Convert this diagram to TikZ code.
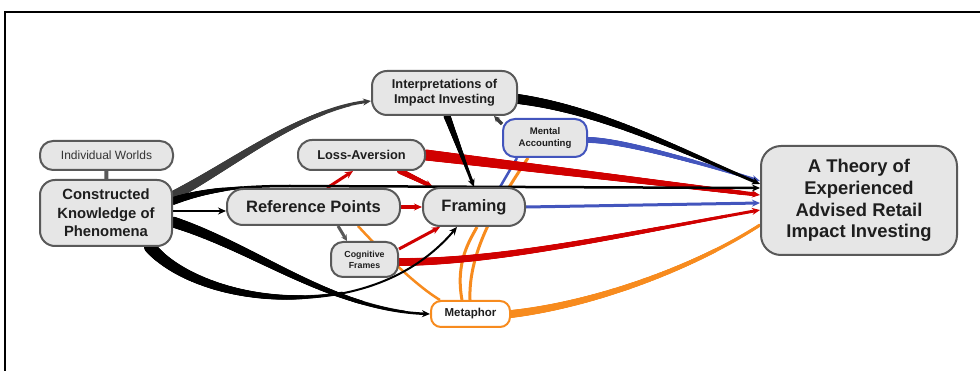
\documentclass[tikz,border=0pt]{standalone}
\usepackage{fontspec}
\setmainfont{Liberation Sans}
\usetikzlibrary{arrows.meta,backgrounds,decorations.markings}

\definecolor{boxfill}{HTML}{E6E6E6}
\definecolor{boxline}{HTML}{595959}
\definecolor{textgray}{HTML}{333333}
\definecolor{inktext}{HTML}{1E1E1E}
\definecolor{linkred}{HTML}{D00000}
\definecolor{linkblue}{HTML}{4355BD}
\definecolor{linkorange}{HTML}{F78B1E}
\definecolor{linkgray}{HTML}{3C3C3C}

\tikzset{
  box/.style={draw=boxline, fill=boxfill, line width=2pt, align=center,
    inner sep=0pt, text=inktext},
  tip/.style={-{Stealth[length=8pt,width=7pt]}},
  smalltip/.style={-{Stealth[length=6pt,width=6pt]}},
  % stroke that narrows from width #2 to #3 over the fraction #4 of the path
  taper/.style n args={4}{postaction={decorate,decoration={markings,
    mark=between positions 0 and #4 step 0.8pt with {
      \pgfmathsetmacro\tpr{(#2-(#2-#3)*(\pgfkeysvalueof{/pgf/decoration/mark info/distance from start})/(#4*\pgfdecoratedpathlength))/2}
      \fill[#1] (0,0) circle[radius=\tpr pt];
    }}}},
}

\begin{document}
\begin{tikzpicture}[x=1pt, y=-1pt, line cap=round]
\useasboundingbox (0,0) rectangle (980,371);

% ---- nodes ----
\node[box, minimum width=133pt, minimum height=29pt, rounded corners=13pt,
  text=textgray, font=\fontsize{12}{14}\selectfont] (iw) at (106.5,155.5) {Individual Worlds};
\node[box, minimum width=132pt, minimum height=66pt, rounded corners=15pt,
  font=\bfseries\fontsize{14.8}{18.5}\selectfont] (ck) at (106,213) {Constructed\\Knowledge of\\Phenomena};
\node[box, minimum width=173pt, minimum height=36pt, rounded corners=16pt,
  font=\bfseries\fontsize{16.5}{19}\selectfont] (ref) at (313.5,207) {Reference Points};
\node[box, minimum width=102pt, minimum height=38pt, rounded corners=17pt,
  font=\bfseries\fontsize{16.5}{19}\selectfont] (framing) at (474,207) {Framing};
\node[box, minimum width=127pt, minimum height=30pt, rounded corners=14pt,
  font=\bfseries\fontsize{12.8}{15}\selectfont] (la) at (361.5,155) {Loss-Aversion};
\node[box, minimum width=145pt, minimum height=44pt, rounded corners=15pt,
  font=\bfseries\fontsize{12.8}{15}\selectfont] (interp) at (444.5,93) {Interpretations of\\Impact Investing};
\node[box, draw=linkblue, minimum width=84pt, minimum height=38pt, rounded corners=12pt,
  font=\bfseries\fontsize{9.6}{11.7}\selectfont] (ma) at (545,138) {Mental\\Accounting};
\node[box, minimum width=67pt, minimum height=35pt, rounded corners=12pt,
  font=\bfseries\fontsize{8.8}{11}\selectfont] (cf) at (364.5,259.5) {Cognitive\\Frames};
\node[box, draw=linkorange, fill=white, minimum width=79pt, minimum height=26pt, rounded corners=10pt,
  font=\bfseries\fontsize{11.5}{13}\selectfont] (metaphor) at (470.5,314) {Metaphor};
\node[box, minimum width=196pt, minimum height=109pt, rounded corners=20pt,
  font=\bfseries\fontsize{18.4}{21.7}\selectfont] (theory) at (859,200.5) {A Theory of\\Experienced\\Advised Retail\\Impact Investing};

\begin{scope}[on background layer]
  % frame
  \draw[black, line width=2.5pt, line cap=butt] (5,371) -- (5,12) -- (980,12);

  % link between the two left boxes
  \draw[boxline, line width=4pt, line cap=butt] (iw) -- (ck);

  % orange links
  \draw[linkorange, line width=3pt, taper={linkorange}{8}{3}{1}]
    (metaphor.east) .. controls (590,305) and (690,270) .. (theory.west |- 0,225);
  \draw[linkorange, line width=3pt]
    (metaphor.north -| 462,0) .. controls (455,262) and (470,240) .. (framing.south -| 477,0);
  \draw[linkorange, line width=3pt]
    (metaphor.north -| 470,0) .. controls (468,250) and (500,200) .. (ma.south -| 528,0);
  \draw[linkorange, line width=2.5pt]
    (ref.south -| 358,0) .. controls (380,250) and (415,285) .. (metaphor.north -| 440,0);

  % blue links
  \draw[linkblue, line width=3pt, tip, taper={linkblue}{6}{3}{0.9}]
    (ma.east |- 0,140) .. controls (620,140) and (690,160) .. (theory.west |- 0,181);
  \draw[linkblue, line width=3pt, tip] (framing.east) -- (theory.west |- 0,203);
  \draw[linkblue, line width=2.5pt] (framing.north -| 500,0) -- (ma.south -| 517,0);

  % red links
  \draw[linkred, line width=3pt, tip] (ref.north -| 327,0) -- (la.south -| 353,0);
  \draw[linkred, line width=4pt, tip, taper={linkred}{6}{4}{0.8}]
    (la.south -| 400,0) -- (framing.north -| 433,0);
  \draw[linkred, line width=4pt, tip] (ref.east) -- (framing.west);
  \draw[linkred, line width=3pt, tip] (cf.east |- 0,249) -- (framing.south -| 440,0);
  \draw[linkred, line width=4pt, tip, taper={linkred}{11}{4}{0.95}]
    (la.east |- 0,155) -- (theory.west |- 0,195);
  \draw[linkred, line width=3pt, tip, taper={linkred}{8}{3}{0.9}]
    (cf.east |- 0,262) .. controls (500,262) and (620,235) .. (theory.west |- 0,210);

  % black and grey links
  \draw[linkgray, line width=3pt, tip, taper={linkgray}{10}{3}{0.9}]
    (ck.east |- 0,196) .. controls (240,160) and (300,110) .. (interp.west |- 0,101);
  \draw[black, line width=2.5pt, tip, taper={black}{8}{2.5}{0.12}]
    (ck.east |- 0,201) .. controls (205,190) and (240,186) .. (290,186) -- (theory.west |- 0,188);
  \draw[black, line width=2pt, tip] (ck.east |- 0,211) -- (ref.west |- 0,211);
  \draw[black, line width=2.5pt, tip, taper={black}{11}{2.5}{0.9}]
    (ck.east |- 0,222) .. controls (260,250) and (330,310) .. (metaphor.west);
  \draw[black, line width=2pt, tip, taper={black}{12}{2}{0.6}]
    (ck.south -| 150,0) .. controls (200,305) and (370,330) .. (framing.south -| 457,0);
  \draw[black, line width=3pt, tip, taper={black}{7}{3}{0.8}]
    (interp.south -| 447,0) -- (framing.north -| 474,0);
  \draw[black, line width=3pt, tip, taper={black}{10}{3}{0.9}]
    (interp.east |- 0,99) .. controls (600,110) and (680,150) .. (theory.west |- 0,184);
  \draw[linkgray, line width=3.5pt, smalltip] (ma.west |- 0,124) -- (interp.south -| 494,0);
  \draw[boxline, line width=3pt, smalltip] (ref.south -| 338,0) -- (cf.north -| 347,0);
\end{scope}
\end{tikzpicture}
\end{document}
